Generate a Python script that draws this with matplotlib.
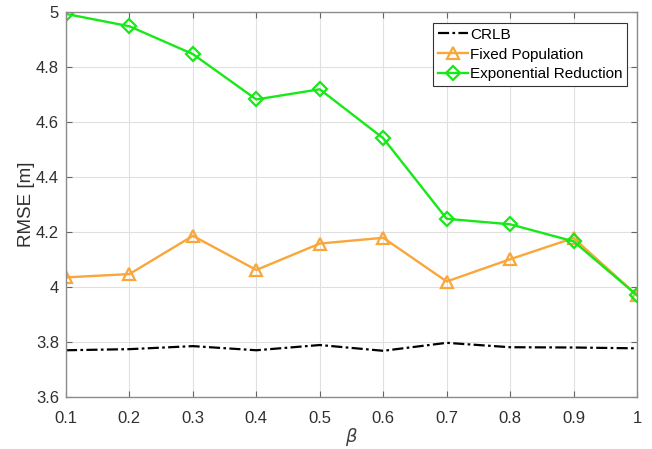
import matplotlib
matplotlib.use("Agg")
import matplotlib.pyplot as plt

plt.rcParams['font.family'] = ['Liberation Sans', 'DejaVu Sans']
plt.rcParams['mathtext.fontset'] = 'dejavusans'

beta = [0.1, 0.2, 0.3, 0.4, 0.5, 0.6, 0.7, 0.8, 0.9, 1.0]
crlb = [3.770, 3.774, 3.785, 3.770, 3.789, 3.768, 3.797, 3.781, 3.780, 3.777]
fixed_pop = [4.035, 4.047, 4.186, 4.062, 4.158, 4.179, 4.020, 4.101, 4.178, 3.970]
exp_red = [4.993, 4.948, 4.847, 4.682, 4.719, 4.541, 4.248, 4.228, 4.166, 3.970]

xticks = [0.1, 0.2, 0.3, 0.4, 0.5, 0.6, 0.7, 0.8, 0.9, 1]
xtick_labels = ['0.1', '0.2', '0.3', '0.4', '0.5', '0.6', '0.7', '0.8', '0.9', '1']
yticks = [3.6, 3.8, 4.0, 4.2, 4.4, 4.6, 4.8, 5.0]
ytick_labels = ['3.6', '3.8', '4', '4.2', '4.4', '4.6', '4.8', '5']

fig = plt.figure(figsize=(6.52, 4.49), dpi=100)
ax = fig.add_axes([0.1012, 0.1158, 0.8758, 0.8575])

ax.plot(beta, crlb, color='black', linestyle=(0, (5, 1.5, 1.2, 1.5)), linewidth=1.6,
        label='CRLB')
ax.plot(beta, fixed_pop, color='#F9A63A', linewidth=1.7, marker='^', markersize=9,
        markerfacecolor='none', markeredgewidth=1.6, label='Fixed Population')
ax.plot(beta, exp_red, color='#18E818', linewidth=1.7, marker='D', markersize=7.5,
        markerfacecolor='none', markeredgewidth=1.6, label='Exponential Reduction')

ax.set_xlim(0.1, 1.0)
ax.set_ylim(3.6, 5.0)
ax.set_xticks(xticks)
ax.set_xticklabels(xtick_labels)
ax.set_yticks(yticks)
ax.set_yticklabels(ytick_labels)

ax.grid(True, color='#E0E0E0', linewidth=0.8)
ax.set_axisbelow(True)
for s in ax.spines.values():
    s.set_color('#8C8C8C')
    s.set_linewidth(1.0)
ax.tick_params(direction='in', length=4, color='#666666', labelcolor='#303030',
               labelsize=12, top=True, right=True)
ax.tick_params(axis='x', pad=10)
ax.tick_params(axis='y', pad=5)

ax.set_xlabel(r'$\beta$', fontsize=13, color='#404040', labelpad=0)
ax.set_ylabel('RMSE [m]', fontsize=13.5, color='#303030', labelpad=1)

leg = ax.legend(loc='upper right', bbox_to_anchor=(0.988, 0.979), fontsize=11,
                frameon=True, fancybox=False, edgecolor='#333333', framealpha=1,
                borderpad=0.3, labelspacing=0.38, handlelength=2.0, handletextpad=0.1,
                borderaxespad=0.2)
leg.get_frame().set_linewidth(0.8)

fig.savefig('out.png', dpi=100)
